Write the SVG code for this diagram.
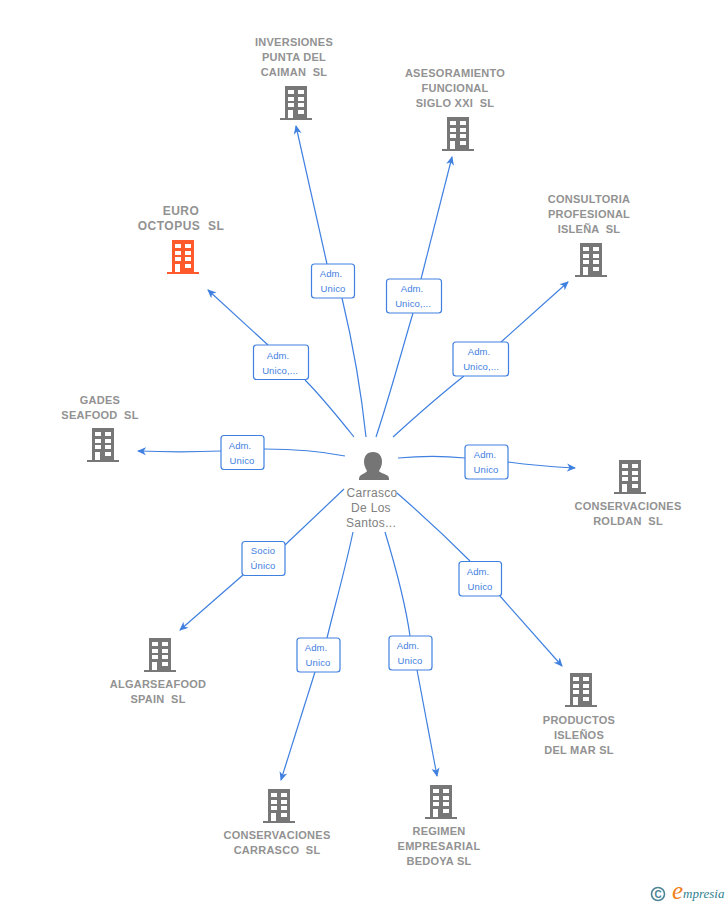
<svg xmlns="http://www.w3.org/2000/svg" xmlns:xlink="http://www.w3.org/1999/xlink" width="728" height="905" viewBox="0 0 728 905">
<style>
.n{font:bold 11px "Liberation Sans",Arial,sans-serif;fill:#929292;text-anchor:middle;letter-spacing:.25px;white-space:pre}
.e{font-size:12px;letter-spacing:.5px}
.p{font:12px "Liberation Sans",Arial,sans-serif;fill:#808080;text-anchor:middle;letter-spacing:.3px}
.c{fill:none;stroke:#3f80e0;stroke-width:1.2}
.b{fill:#fff;stroke:#3f80e0;stroke-width:1.2}
.l{font:9.5px "Liberation Sans",Arial,sans-serif;fill:#3f80e0;text-anchor:middle;letter-spacing:.1px}
</style>
<defs>
<marker id="a" markerUnits="userSpaceOnUse" markerWidth="10" markerHeight="9" refX="8" refY="4.500" orient="auto"><path d="M0 .5L9 4.500L0 8.500L2.500 4.500Z" fill="#3f80e0"/></marker>
<g id="bld"><path fill-rule="evenodd" d="M-11 0H11V32H16V34H-16V32H-11ZM-8 4V8H-2V4ZM2 4V8H8V4ZM-8 11V15H-2V11ZM2 11V15H8V11ZM-8 17V21H-2V17ZM2 17V21H8V17ZM-8 24V32H-3V24ZM2 24V28H8V24Z"/></g>
</defs>
<g id="connectors">
<path class="c" d="M366 437C361 390 352 340 342 298"/><path class="c" marker-end="url(#a)" d="M327 264L296 126"/>
<path class="c" d="M376 437C390 395 402 350 413 313"/><path class="c" marker-end="url(#a)" d="M421 279L452 157"/>
<path class="c" d="M393 437C415 417 440 395 464 376"/><path class="c" marker-end="url(#a)" d="M501 342L568 282"/>
<path class="c" d="M354 437C338 417 322 397 305 380"/><path class="c" marker-end="url(#a)" d="M268 345L208 290"/>
<path class="c" d="M345 456C320 451 290 449 264 449"/><path class="c" marker-end="url(#a)" d="M221 451C195 452 165 452 138 451"/>
<path class="c" d="M398 458C420 456 445 456 465 458"/><path class="c" marker-end="url(#a)" d="M508 462C530 465 555 467 575 468"/>
<path class="c" d="M344 489L285 545"/><path class="c" marker-end="url(#a)" d="M243 575L180 630"/>
<path class="c" d="M397 493C420 513 447 538 470 561"/><path class="c" marker-end="url(#a)" d="M500 596L562 666"/>
<path class="c" d="M353 532C345 570 335 605 327 638"/><path class="c" marker-end="url(#a)" d="M315 672L281 780"/>
<path class="c" d="M385 532C395 565 405 600 410 636"/><path class="c" marker-end="url(#a)" d="M417 670L437 776"/>
</g>
<g id="edge-labels">
<g><rect class="b" x="311.500" y="264" width="43" height="34" rx="3"/><text class="l" x="331" y="277">Adm.</text><text class="l" x="333" y="292">Unico</text></g>
<g><rect class="b" x="386.500" y="279" width="55" height="34" rx="3"/><text class="l" x="412" y="292">Adm.</text><text class="l" x="413" y="307">Unico,...</text></g>
<g><rect class="b" x="453" y="342" width="55.500" height="34" rx="3"/><text class="l" x="479" y="355">Adm.</text><text class="l" x="481" y="370">Unico,...</text></g>
<g><rect class="b" x="253.500" y="345" width="55" height="34.500" rx="3"/><text class="l" x="278" y="359">Adm.</text><text class="l" x="280" y="374">Unico,...</text></g>
<g><rect class="b" x="221" y="435.500" width="43" height="34" rx="3"/><text class="l" x="240" y="449">Adm.</text><text class="l" x="242" y="464">Unico</text></g>
<g><rect class="b" x="465" y="445" width="43" height="34" rx="3"/><text class="l" x="485" y="458">Adm.</text><text class="l" x="486" y="473">Unico</text></g>
<g><rect class="b" x="242" y="541.500" width="43" height="34" rx="3"/><text class="l" x="263" y="554">Socio</text><text class="l" x="263" y="569">Único</text></g>
<g><rect class="b" x="459" y="561.500" width="42.500" height="34.500" rx="3"/><text class="l" x="478" y="575">Adm.</text><text class="l" x="480" y="590">Unico</text></g>
<g><rect class="b" x="297" y="638" width="43" height="34" rx="3"/><text class="l" x="316" y="651">Adm.</text><text class="l" x="318" y="666">Unico</text></g>
<g><rect class="b" x="389" y="636" width="43" height="34" rx="3"/><text class="l" x="408" y="649">Adm.</text><text class="l" x="410" y="664">Unico</text></g>
</g>
<g id="person"><path fill="#757575" d="M374 452C380 452 383 456 383 462C383 466 381 469 380 471C381 473 387 474 389 476C390 477 390 479 390 480H360C360 479 360 477 361 476C363 474 367 473 368 471C367 469 365 466 365 462C365 456 368 452 374 452Z" transform="translate(-1 0)"/><text class="p" x="372" y="497">Carrasco</text><text class="p" x="371" y="512">De Los</text><text class="p" x="371" y="527">Santos...</text></g>
<g id="n1" fill="#777"><use xlink:href="#bld" x="296" y="86"/><text class="n" x="294" y="46">INVERSIONES</text><text class="n" x="294" y="61">PUNTA DEL</text><text class="n" x="294" y="76">CAIMAN  SL</text></g>
<g id="n2" fill="#777"><use xlink:href="#bld" x="458" y="117"/><text class="n" x="455" y="77">ASESORAMIENTO</text><text class="n" x="455" y="92">FUNCIONAL</text><text class="n" x="455" y="107">SIGLO XXI  SL</text></g>
<g id="n3" fill="#777"><use xlink:href="#bld" x="591" y="243"/><text class="n" x="589" y="203">CONSULTORIA</text><text class="n" x="589" y="218">PROFESIONAL</text><text class="n" x="589" y="233">ISLEÑA  SL</text></g>
<g id="n4" fill="#ff5a2c"><use xlink:href="#bld" x="183" y="240"/><text class="n e" x="181" y="215">EURO</text><text class="n e" x="181" y="230">OCTOPUS  SL</text></g>
<g id="n5" fill="#777"><use xlink:href="#bld" x="103" y="428"/><text class="n" x="100" y="404">GADES</text><text class="n" x="100" y="419">SEAFOOD  SL</text></g>
<g id="n6" fill="#777"><use xlink:href="#bld" x="630" y="460"/><text class="n" x="628" y="510">CONSERVACIONES</text><text class="n" x="628" y="525">ROLDAN  SL</text></g>
<g id="n7" fill="#777"><use xlink:href="#bld" x="160" y="638"/><text class="n" x="158" y="688">ALGARSEAFOOD</text><text class="n" x="158" y="703">SPAIN  SL</text></g>
<g id="n8" fill="#777"><use xlink:href="#bld" x="581" y="673"/><text class="n" x="579" y="724">PRODUCTOS</text><text class="n" x="579" y="739">ISLEÑOS</text><text class="n" x="579" y="754">DEL MAR SL</text></g>
<g id="n9" fill="#777"><use xlink:href="#bld" x="441" y="785"/><text class="n" x="439" y="835">REGIMEN</text><text class="n" x="439" y="850">EMPRESARIAL</text><text class="n" x="439" y="865">BEDOYA SL</text></g>
<g id="n10" fill="#777"><use xlink:href="#bld" x="279" y="789"/><text class="n" x="277" y="839">CONSERVACIONES</text><text class="n" x="277" y="854">CARRASCO  SL</text></g>
<g id="logo"><circle cx="658" cy="894" r="6.500" fill="none" stroke="#4d8496" stroke-width="1.600"/><text x="658" y="897.500" font-family="Liberation Sans,sans-serif" font-size="10" font-weight="bold" fill="#4d8496" text-anchor="middle">C</text><text x="672" y="899" font-family="Liberation Serif,serif" font-style="italic" font-size="25" fill="#f08020">e</text><text x="683" y="898" font-family="Liberation Serif,serif" font-style="italic" font-size="13" fill="#2f7f90">mpresia</text></g>
</svg>
